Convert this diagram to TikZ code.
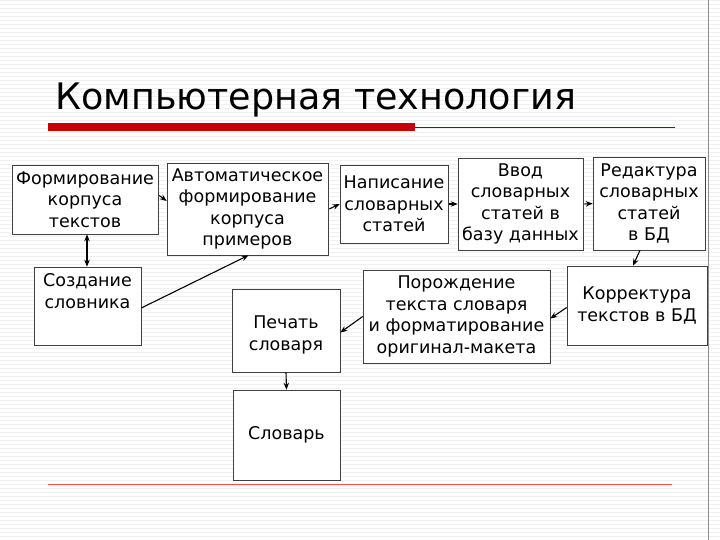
\documentclass[tikz,border=0pt]{standalone}
\usepackage{fontspec}
\setmainfont{DejaVu Sans}
\usetikzlibrary{arrows.meta}
\begin{document}
\begin{tikzpicture}[x=1pt,y=-1pt,
  bx/.style={draw=black!75,fill=white,line width=0.6pt,inner sep=0pt,align=center,font=\fontsize{17.5}{21.5}\selectfont},
  ar/.style={-{Stealth[length=7pt,width=5.5pt]},line width=1.1pt}]
\useasboundingbox (0,0) rectangle (720,540);
\fill[white] (0,0) rectangle (720,540);
\foreach \y in {0,4,...,540} \draw[black!6,line width=0.4pt] (0,\y) -- (720,\y);
\draw[black!45,line width=0.6pt] (708,0) -- (708,540);
\node[anchor=base west,font=\fontsize{36.5}{40}\selectfont] (title) at (52,110) {Компьютерная технология};
\fill[red!80!black] (48,123) rectangle (415,131);
\draw[red!60!black,line width=0.6pt] (415,127) -- (675,127);
\draw[red!70,line width=0.6pt] (48,484) -- (672,484);
\node[bx,minimum width=146pt,minimum height=69pt] (A) at (85,199.5) {Формирование\\корпуса\\текстов};
\node[bx,minimum width=161pt,minimum height=92pt] (B) at (247.5,209) {Автоматическое\\формирование\\корпуса\\примеров};
\node[bx,minimum width=108pt,minimum height=78pt] (C) at (394,204) {Написание\\словарных\\статей};
\node[bx,minimum width=125pt,minimum height=92pt] (D) at (520.5,204) {Ввод\\словарных\\статей в\\базу данных};
\node[bx,minimum width=112pt,minimum height=93pt] (E) at (649,203.5) {Редактура\\словарных\\статей\\в БД};
\node[bx,minimum width=140pt,minimum height=79pt] (F) at (637,305.5) {Корректура\\текстов в БД};
\node[bx,minimum width=187pt,minimum height=93pt] (G) at (456.5,316.5) {Порождение\\текста словаря\\и форматирование\\оригинал-макета};
\node[bx,minimum width=107pt,minimum height=78pt] (H) at (87.5,306) {Создание\\словника\\[8pt]};
\node[bx,minimum width=108pt,minimum height=83pt] (I) at (286,330.5) {\\Печать\\словаря};
\node[bx,minimum width=107pt,minimum height=90pt] (J) at (286.5,435) {Словарь};
\draw[ar] (A.east) ++(1,-4) coordinate (a1) -- ([yshift=8pt]B.west);
\draw[ar] ([xshift=1pt]B.east) -- (C.west);
\draw[ar] ([xshift=1pt]C.east) -- (D.west);
\draw[ar] ([xshift=1pt]D.east) -- (E.west);
\draw[ar] ([xshift=-9pt]E.south) -- ([xshift=-4pt]F.north);
\draw[ar] ([yshift=-2pt]F.west) -- ([yshift=-2pt]G.east);
\draw[ar] (G.west) -- ([yshift=-2pt]I.east);
\draw[ar] ([yshift=-2pt]H.east) -- ([xshift=1pt]B.south);
\draw[{Stealth[length=7pt,width=5.5pt]}-{Stealth[length=7pt,width=5.5pt]},line width=1.1pt] ([xshift=2pt]A.south) -- ([xshift=-0.5pt]H.north);
\draw[ar] (I.south) -- (J.north);
\end{tikzpicture}
\end{document}
